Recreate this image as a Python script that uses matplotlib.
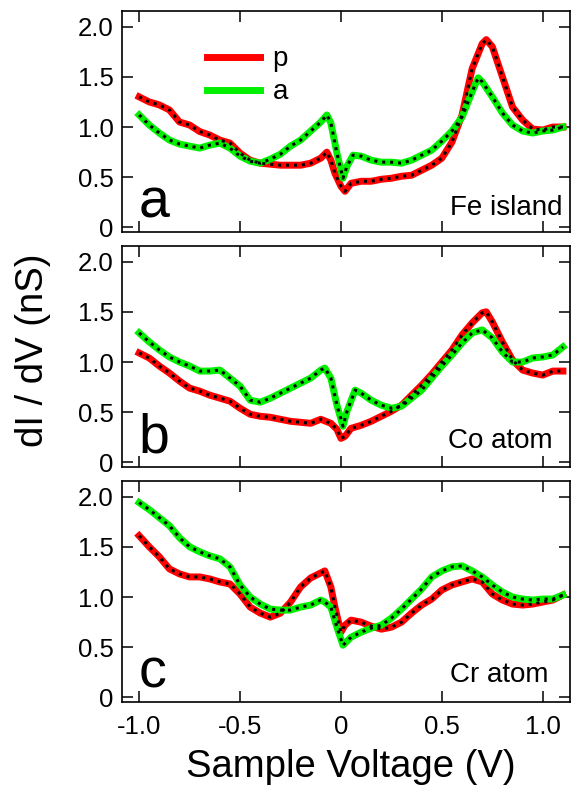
import matplotlib.pyplot as plt

plt.rcParams['font.family'] = ['Liberation Sans', 'DejaVu Sans']

RED = '#ff0000'
GREEN = '#00f000'

# panel a: Fe island
a_p_v = [-1.0, -0.95, -0.9, -0.85, -0.8, -0.75, -0.7, -0.65, -0.6, -0.55,
         -0.5, -0.45, -0.4, -0.35, -0.3, -0.25, -0.2, -0.15, -0.1, -0.07,
         -0.05, -0.03, 0.0, 0.02, 0.05, 0.1, 0.15, 0.2, 0.25, 0.3,
         0.35, 0.4, 0.45, 0.5, 0.55, 0.6, 0.65, 0.7, 0.72, 0.75,
         0.8, 0.85, 0.9, 0.95, 1.0, 1.05, 1.1]
a_p = [1.30, 1.25, 1.22, 1.17, 1.05, 1.02, 0.955, 0.92, 0.87, 0.84,
       0.74, 0.67, 0.64, 0.63, 0.62, 0.62, 0.62, 0.64, 0.69, 0.75,
       0.67, 0.54, 0.41, 0.36, 0.44, 0.46, 0.46, 0.48, 0.49, 0.51,
       0.52, 0.57, 0.62, 0.69, 0.85, 1.12, 1.58, 1.83, 1.87, 1.80,
       1.50, 1.20, 1.07, 0.98, 0.97, 1.00, 1.00]
a_a_v = [-1.0, -0.95, -0.9, -0.85, -0.8, -0.75, -0.7, -0.65, -0.6, -0.55,
         -0.5, -0.45, -0.4, -0.35, -0.3, -0.25, -0.2, -0.15, -0.1, -0.07,
         -0.05, -0.02, 0.01, 0.03, 0.06, 0.1, 0.15, 0.2, 0.25, 0.3,
         0.35, 0.4, 0.45, 0.5, 0.55, 0.6, 0.65, 0.68, 0.7, 0.75,
         0.8, 0.85, 0.9, 0.95, 1.0, 1.05, 1.1]
a_a = [1.12, 1.02, 0.94, 0.87, 0.83, 0.81, 0.79, 0.82, 0.84, 0.79,
       0.71, 0.66, 0.64, 0.68, 0.73, 0.81, 0.87, 0.96, 1.05, 1.12,
       1.04, 0.74, 0.49, 0.61, 0.72, 0.71, 0.67, 0.65, 0.65, 0.64,
       0.67, 0.72, 0.77, 0.86, 0.96, 1.10, 1.35, 1.49, 1.45, 1.30,
       1.14, 1.02, 0.96, 0.94, 0.96, 0.97, 1.00]

# panel b: Co atom
b_p_v = [-1.0, -0.95, -0.9, -0.85, -0.8, -0.75, -0.7, -0.65, -0.6, -0.55,
         -0.5, -0.45, -0.4, -0.35, -0.3, -0.25, -0.2, -0.15, -0.1, -0.05,
         -0.02, 0.0, 0.02, 0.05, 0.1, 0.15, 0.2, 0.25, 0.3, 0.35,
         0.4, 0.45, 0.5, 0.55, 0.6, 0.65, 0.7, 0.72, 0.75, 0.8,
         0.85, 0.9, 0.95, 1.0, 1.05, 1.1]
b_p = [1.09, 1.04, 0.96, 0.89, 0.81, 0.74, 0.71, 0.67, 0.64, 0.61,
       0.54, 0.48, 0.46, 0.45, 0.43, 0.41, 0.40, 0.39, 0.43, 0.39,
       0.33, 0.24, 0.26, 0.34, 0.37, 0.41, 0.46, 0.51, 0.57, 0.67,
       0.77, 0.88, 1.00, 1.12, 1.27, 1.39, 1.49, 1.50, 1.40, 1.20,
       1.02, 0.92, 0.89, 0.87, 0.91, 0.91]
b_a_v = [-1.0, -0.95, -0.9, -0.85, -0.8, -0.75, -0.7, -0.65, -0.6, -0.55,
         -0.5, -0.45, -0.4, -0.35, -0.3, -0.25, -0.2, -0.15, -0.1, -0.08,
         -0.05, -0.02, 0.01, 0.03, 0.07, 0.1, 0.15, 0.2, 0.25, 0.3,
         0.35, 0.4, 0.45, 0.5, 0.55, 0.6, 0.65, 0.7, 0.75, 0.8,
         0.85, 0.9, 0.95, 1.0, 1.05, 1.1]
b_a = [1.29, 1.20, 1.12, 1.05, 1.00, 0.96, 0.91, 0.91, 0.92, 0.84,
       0.76, 0.62, 0.60, 0.64, 0.69, 0.74, 0.79, 0.84, 0.92, 0.94,
       0.84, 0.57, 0.36, 0.51, 0.72, 0.69, 0.62, 0.57, 0.54, 0.56,
       0.64, 0.72, 0.84, 0.96, 1.07, 1.19, 1.29, 1.32, 1.24, 1.10,
       1.00, 1.00, 1.04, 1.05, 1.07, 1.15]

# panel c: Cr atom
c_p_v = [-1.0, -0.95, -0.9, -0.85, -0.8, -0.75, -0.7, -0.65, -0.6, -0.55,
         -0.5, -0.45, -0.4, -0.35, -0.3, -0.25, -0.2, -0.15, -0.1, -0.08,
         -0.05, -0.03, 0.0, 0.02, 0.05, 0.1, 0.15, 0.2, 0.25, 0.3,
         0.35, 0.4, 0.45, 0.5, 0.55, 0.6, 0.65, 0.7, 0.75, 0.8,
         0.85, 0.9, 0.95, 1.0, 1.05, 1.1]
c_p = [1.61, 1.50, 1.40, 1.28, 1.23, 1.20, 1.20, 1.18, 1.15, 1.13,
       1.03, 0.90, 0.84, 0.80, 0.84, 0.95, 1.10, 1.19, 1.24, 1.26,
       1.10, 0.90, 0.65, 0.72, 0.77, 0.75, 0.71, 0.68, 0.70, 0.75,
       0.84, 0.92, 0.98, 1.07, 1.12, 1.15, 1.18, 1.15, 1.03, 0.97,
       0.93, 0.92, 0.93, 0.95, 0.97, 1.02]
c_a_v = [-1.0, -0.95, -0.9, -0.85, -0.8, -0.75, -0.7, -0.65, -0.6, -0.55,
         -0.5, -0.45, -0.4, -0.35, -0.3, -0.25, -0.2, -0.15, -0.1, -0.08,
         -0.05, -0.02, 0.01, 0.05, 0.1, 0.15, 0.2, 0.25, 0.3, 0.35,
         0.4, 0.45, 0.5, 0.55, 0.6, 0.65, 0.7, 0.75, 0.8, 0.85,
         0.9, 0.95, 1.0, 1.05, 1.1]
c_a = [1.94, 1.87, 1.79, 1.71, 1.59, 1.50, 1.45, 1.41, 1.38, 1.30,
       1.12, 1.00, 0.93, 0.88, 0.87, 0.87, 0.90, 0.92, 0.97, 0.95,
       0.90, 0.70, 0.52, 0.60, 0.65, 0.69, 0.72, 0.79, 0.88, 0.98,
       1.08, 1.20, 1.26, 1.30, 1.31, 1.26, 1.20, 1.12, 1.05, 1.00,
       0.98, 0.97, 0.98, 0.98, 1.02]

PANELS = [
    ('a', 'Fe island', a_p_v, a_p, a_a_v, a_a),
    ('b', 'Co atom', b_p_v, b_p, b_a_v, b_a),
    ('c', 'Cr atom', c_p_v, c_p, c_a_v, c_a),
]
TAG_POS = [(0.984, 0.077), (0.962, 0.086), (0.951, 0.092)]

Y_TICKS = [0, 0.5, 1.0, 1.5, 2.0]
Y_LABELS = ['0', '0.5', '1.0', '1.5', '2.0']
X_TICKS = [-1.0, -0.5, 0, 0.5, 1.0]
X_LABELS = ['-1.0', '-0.5', '0', '0.5', '1.0']

W, H = 571, 789
fig = plt.figure(figsize=(W / 100, H / 100), dpi=100)

left = 122 / W
width = 448 / W
height = 221 / H
tops = [11, 246, 481]

for i, (letter, tag, pv, p, av, a) in enumerate(PANELS):
    bottom = (H - tops[i] - 221) / H
    ax = fig.add_axes([left, bottom, width, height])

    lp, = ax.plot(pv, p, color=RED, lw=5, label='p', zorder=2,
                  solid_joinstyle='round')
    la, = ax.plot(av, a, color=GREEN, lw=5, label='a', zorder=2,
                  solid_joinstyle='round')
    ax.plot(pv, p, color='black', lw=2.2, ls=(0, (1, 1.6)), zorder=3)
    ax.plot(av, a, color='black', lw=2.2, ls=(0, (1, 1.6)), zorder=3)

    ax.set_xlim(-1.085, 1.135)
    ax.set_ylim(-0.045, 2.155)
    ax.set_yticks(Y_TICKS)
    ax.set_yticklabels(Y_LABELS)
    ax.set_xticks(X_TICKS)
    ax.set_xticklabels(X_LABELS)
    ax.tick_params(direction='in', length=8, width=1.1, top=True, right=True,
                   labelsize=18.5)
    ax.tick_params(axis='y', pad=6)
    ax.tick_params(axis='x', pad=9, labelbottom=(i == 2))
    for s in ax.spines.values():
        s.set_linewidth(1.2)

    ax.text(0.036, 0.065, letter, transform=ax.transAxes, fontsize=40,
            ha='left', va='baseline')
    tx, ty = TAG_POS[i]
    ax.text(tx, ty, tag, transform=ax.transAxes, fontsize=20,
            ha='right', va='baseline')

    if i == 0:
        ax.legend(handles=[lp, la], loc='upper left',
                  bbox_to_anchor=(0.19, 0.84), frameon=False, fontsize=20,
                  handlelength=1.9, handletextpad=0.45, labelspacing=0.25,
                  borderpad=0, borderaxespad=0)

fig.text(33 / W, (H - 350) / H, 'dI / dV (nS)', rotation=90, fontsize=27.5,
         ha='center', va='center')
fig.text(351 / W, (H - 777) / H, 'Sample Voltage (V)', fontsize=27.5,
         ha='center', va='baseline')

fig.savefig('out.png', dpi=100)
